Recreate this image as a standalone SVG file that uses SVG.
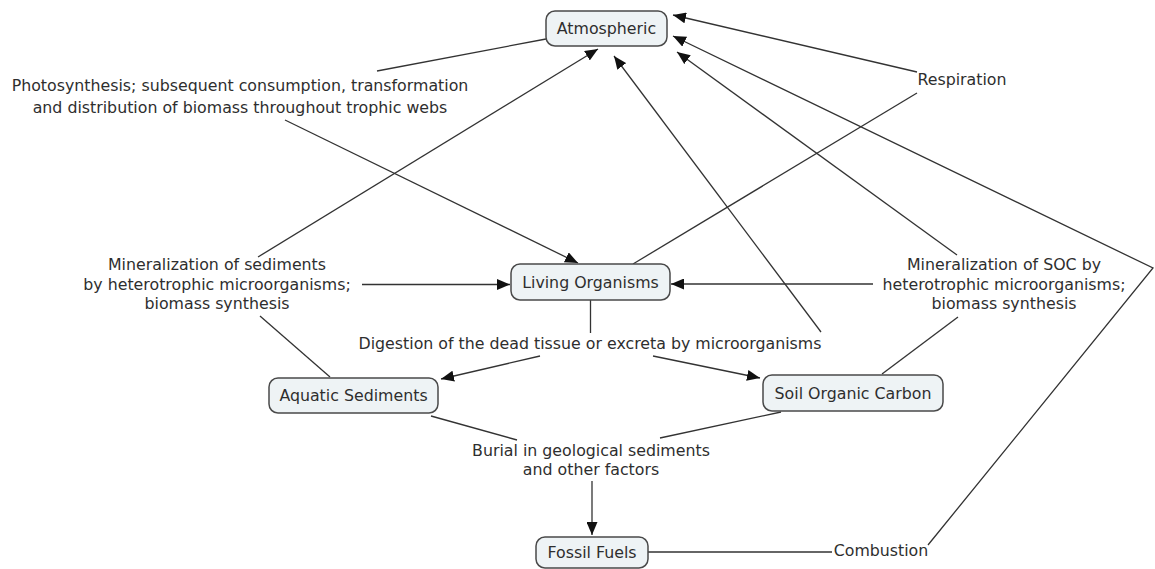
<svg xmlns="http://www.w3.org/2000/svg" width="1155" height="569" viewBox="0 0 1155 569">
<defs>
<marker id="ah" markerWidth="13" markerHeight="11" refX="13" refY="5.5" orient="auto" markerUnits="userSpaceOnUse">
<path d="M0,0 L13,5.5 L0,11 z" fill="#111"/>
</marker>
<style>
.node rect{fill:#eef3f5;stroke:#4a4a4a;stroke-width:1.5}
text{font-family:"DejaVu Sans",Verdana,sans-serif;font-size:15.8px;fill:#2e2e2e;text-anchor:middle}
.c line,.c polyline{stroke:#333;stroke-width:1.3;fill:none}
.a{marker-end:url(#ah)}
</style>
</defs>
<rect width="1155" height="569" fill="#fff"/>
<g class="c" id="connectors">
<line x1="546" y1="39" x2="377" y2="71"/>
<line class="a" x1="285" y1="120" x2="578" y2="263"/>
<line x1="633" y1="264" x2="917" y2="93"/>
<line class="a" x1="917" y1="72" x2="673" y2="15"/>
<line x1="330" y1="377" x2="260" y2="316"/>
<line class="a" x1="258" y1="257" x2="598" y2="49"/>
<line class="a" x1="362" y1="284.5" x2="510" y2="284.5"/>
<line x1="882" y1="374" x2="958" y2="317"/>
<line class="a" x1="873" y1="284" x2="671" y2="284"/>
<line class="a" x1="957" y1="255" x2="677" y2="52"/>
<line x1="590.5" y1="300" x2="590.5" y2="333"/>
<line class="a" x1="540" y1="356" x2="441" y2="379"/>
<line class="a" x1="653" y1="356" x2="760" y2="378"/>
<line class="a" x1="821" y1="332" x2="614" y2="56"/>
<line x1="431" y1="416" x2="517" y2="440"/>
<line x1="781" y1="412" x2="660" y2="438"/>
<line class="a" x1="592" y1="481" x2="592" y2="535"/>
<line x1="648" y1="552" x2="832" y2="552"/>
<polyline class="a" points="928,545 1153,268 673,36"/>
</g>
<g id="atmospheric" class="node"><rect x="546" y="11" width="121" height="35" rx="9"/><text x="606.5" y="34">Atmospheric</text></g>
<g id="living" class="node"><rect x="511" y="264" width="159" height="36" rx="9"/><text x="590.5" y="288">Living Organisms</text></g>
<g id="aquatic" class="node"><rect x="269" y="378" width="169" height="35" rx="9"/><text x="353.5" y="401">Aquatic Sediments</text></g>
<g id="soc" class="node"><rect x="763" y="375" width="180" height="36" rx="9"/><text x="853" y="399">Soil Organic Carbon</text></g>
<g id="fossil" class="node"><rect x="536" y="537" width="112" height="31" rx="9"/><text x="592" y="558">Fossil Fuels</text></g>
<g id="labels">
<text x="240" y="91">Photosynthesis; subsequent consumption, transformation</text>
<text x="240" y="113">and distribution of biomass throughout trophic webs</text>
<text x="962" y="85">Respiration</text>
<text x="217" y="270">Mineralization of sediments</text>
<text x="217" y="290">by heterotrophic microorganisms;</text>
<text x="217" y="309">biomass synthesis</text>
<text x="1004" y="270">Mineralization of SOC by</text>
<text x="1004" y="290">heterotrophic microorganisms;</text>
<text x="1004" y="309">biomass synthesis</text>
<text x="590" y="349">Digestion of the dead tissue or excreta by microorganisms</text>
<text x="591" y="456">Burial in geological sediments</text>
<text x="591" y="475">and other factors</text>
<text x="881" y="556">Combustion</text>
</g>
</svg>
